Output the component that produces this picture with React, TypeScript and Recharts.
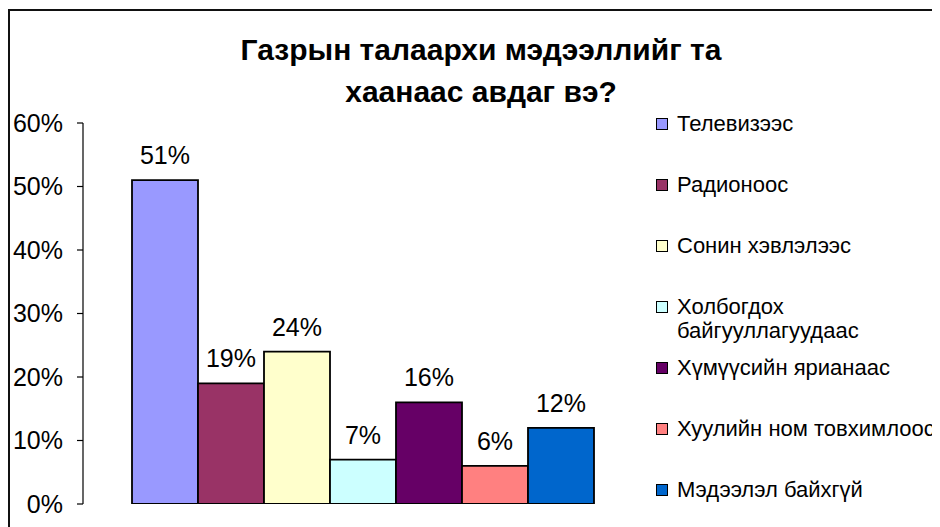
import { BarChart, Bar, XAxis, YAxis, LabelList, Legend } from 'recharts';

const title = ['Газрын талаархи мэдээллийг та', 'хаанаас авдаг вэ?'];

const seriesNames = [
  'Телевизээс',
  'Радионоос',
  'Сонин хэвлэлээс',
  'Холбогдох байгууллагуудаас',
  'Хүмүүсийн ярианаас',
  'Хуулийн ном товхимлоос',
  'Мэдээлэл байхгүй',
];

// legend text as Excel wrapped it
const legendLabels = [
  'Телевизээс',
  'Радионоос',
  'Сонин хэвлэлээс',
  'Холбогдох\nбайгууллагуудаас',
  'Хүмүүсийн ярианаас',
  'Хуулийн ном товхимлоос',
  'Мэдээлэл байхгүй',
];

const seriesValues = [0.51, 0.19, 0.24, 0.07, 0.16, 0.06, 0.12];

const seriesColors = ['#9999FF', '#993366', '#FFFFCC', '#CCFFFF', '#660066', '#FF8080', '#0066CC'];

const yTicks = [0, 0.1, 0.2, 0.3, 0.4, 0.5, 0.6];

const categories = [''];

const FONT = '"Liberation Sans", Arial, sans-serif';

const data = categories.map((name) => {
  const row: Record<string, string | number> = { name };
  seriesValues.forEach((v, i) => {
    row[`s${i}`] = v;
  });
  return row;
});

const pct = (v: any) => `${Math.round(Number(v) * 100)}%`;

function LegendBox(props: any) {
  // keep series order (recharts sorts legend items by name otherwise)
  const payload = [...(props.payload || [])].sort(
    (a: any, b: any) => seriesNames.indexOf(a.value) - seriesNames.indexOf(b.value)
  );
  return (
    <div style={{ fontFamily: FONT, fontSize: 22, color: '#000' }}>
      {payload.map((entry: any, i: number) => {
        const idx = seriesNames.indexOf(entry.value);
        const label = idx >= 0 ? legendLabels[idx] : entry.value;
        return (
          <div key={`leg-${i}`} style={{ height: 61, display: 'flex', alignItems: 'flex-start' }}>
            <span
              style={{
                width: 10,
                height: 10,
                marginTop: 5.5,
                background: entry.color,
                border: '1.5px solid #000',
                flex: 'none',
              }}
            />
            <span style={{ marginLeft: 9, lineHeight: '24px', whiteSpace: 'pre' }}>{label}</span>
          </div>
        );
      })}
    </div>
  );
}

export default function App() {
  return (
    <div style={{ position: 'relative', width: 932, height: 519, overflow: 'hidden', fontFamily: FONT }}>
      <div
        style={{
          position: 'absolute',
          left: 0,
          top: 1,
          width: 1000,
          height: 700,
          borderLeft: '2px solid #111',
          borderTop: '2px solid #111',
        }}
      />
      <div
        style={{
          position: 'absolute',
          left: 0,
          top: 21,
          width: 946,
          textAlign: 'center',
          fontSize: 30,
          fontWeight: 'bold',
          lineHeight: '42px',
          color: '#000',
        }}
      >
        {title.map((t) => (
          <div key={t}>{t}</div>
        ))}
      </div>
      <div style={{ position: 'absolute', left: 0, top: 0 }}>
        <BarChart
          width={932}
          height={519}
          data={data}
          margin={{ top: 115, right: 299, bottom: 23, left: 0 }}
          barGap={0}
          barCategoryGap={49}
        >
          <XAxis dataKey="name" hide />
          <YAxis
            domain={[0, 0.6]}
            ticks={yTicks}
            tickFormatter={pct}
            width={75}
            tickSize={6}
            tickMargin={14}
            axisLine={{ stroke: '#000', strokeWidth: 1.2 }}
            tickLine={{ stroke: '#000', strokeWidth: 1.2 }}
            tick={{ fill: '#000', fontSize: 25, fontFamily: FONT }}
            allowDataOverflow
          />
          <Legend
            layout="horizontal"
            align="center"
            verticalAlign="middle"
            content={<LegendBox />}
            wrapperStyle={{ left: 648, top: 104, width: 300, height: 430 }}
          />
          {seriesNames.map((name, i) => (
            <Bar
              key={name}
              dataKey={`s${i}`}
              name={name}
              fill={seriesColors[i]}
              stroke="#000"
              strokeWidth={1.8}
              isAnimationActive={false}
            >
              <LabelList
                dataKey={`s${i}`}
                position="top"
                offset={16}
                formatter={pct}
                style={{ fill: '#000', fontSize: 25, fontFamily: FONT }}
              />
            </Bar>
          ))}
        </BarChart>
      </div>
    </div>
  );
}
